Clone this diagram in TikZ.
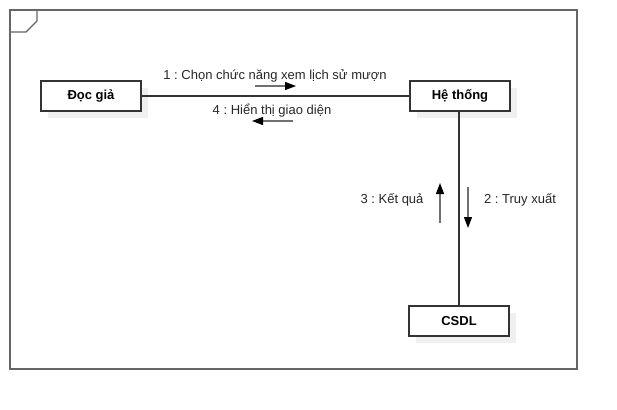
\documentclass[tikz,border=0pt]{standalone}
\usepackage{fontspec}
\setmainfont{Liberation Sans}
\usetikzlibrary{arrows.meta}
\frenchspacing
\definecolor{framegray}{HTML}{666666}
\definecolor{linegray}{HTML}{333333}
\definecolor{shadowgray}{HTML}{F0F0F0}
\definecolor{msggray}{HTML}{707070}
\tikzset{
  obj/.style={draw=linegray, fill=white, line width=1.1pt, minimum width=100pt, minimum height=30pt,
    inner sep=0pt, font=\fontsize{13}{15}\selectfont\bfseries},
  shadowbox/.style={fill=shadowgray, draw=none, minimum width=100pt, minimum height=30pt, inner sep=0pt},
  lbl/.style={font=\fontsize{13}{15}\selectfont, inner sep=0pt, text=black!85},
  msg/.style={draw=msggray, line width=1.2pt, -{Triangle[length=11pt,width=8pt,color=black]}},
  link/.style={draw=linegray, line width=1.2pt},
}
\begin{document}
\begin{tikzpicture}[x=1pt,y=-1pt]
\useasboundingbox (0,0) rectangle (617,409);
% frame
\draw[framegray, line width=1.1pt] (10,10) rectangle (577,369);
\draw[framegray, line width=1.1pt] (10,10) -- (37,10) -- (37,21) -- (26,32) -- (10,32);
% shadows
\node[shadowbox] at (98,103) {};
\node[shadowbox] at (467,103) {};
\node[shadowbox] at (466,328) {};
% objects
\node[obj] (doc) at (91,96) {Đọc giả};
\node[obj] (ht) at (460,96) {Hệ thống};
\node[obj] (db) at (459,321) {CSDL};
% links
\draw[link] (doc.east) -- (ht.west);
\draw[link] (ht.south -| 459,0) -- (db.north -| 459,0);
% messages
\node[lbl] (m1) at (275,76) {1 : Chọn chức năng xem lịch sử mượn};
\coordinate (m1a) at (255,86);
\coordinate (m1b) at (296,86);
\draw[msg] (m1a) -- (m1b);
\node[lbl] (m4) at (272,111) {4 : Hiển thị giao diện};
\coordinate (m4a) at (293,121);
\coordinate (m4b) at (252,121);
\draw[msg] (m4a) -- (m4b);
\node[lbl] (m3) at (392,200) {3 : Kết quả};
\coordinate (m3a) at (440,223);
\coordinate (m3b) at (440,183);
\draw[msg] (m3a) -- (m3b);
\node[lbl] (m2) at (520,200) {2 : Truy xuất};
\coordinate (m2a) at (468,187);
\coordinate (m2b) at (468,228);
\draw[msg] (m2a) -- (m2b);
\end{tikzpicture}
\end{document}
